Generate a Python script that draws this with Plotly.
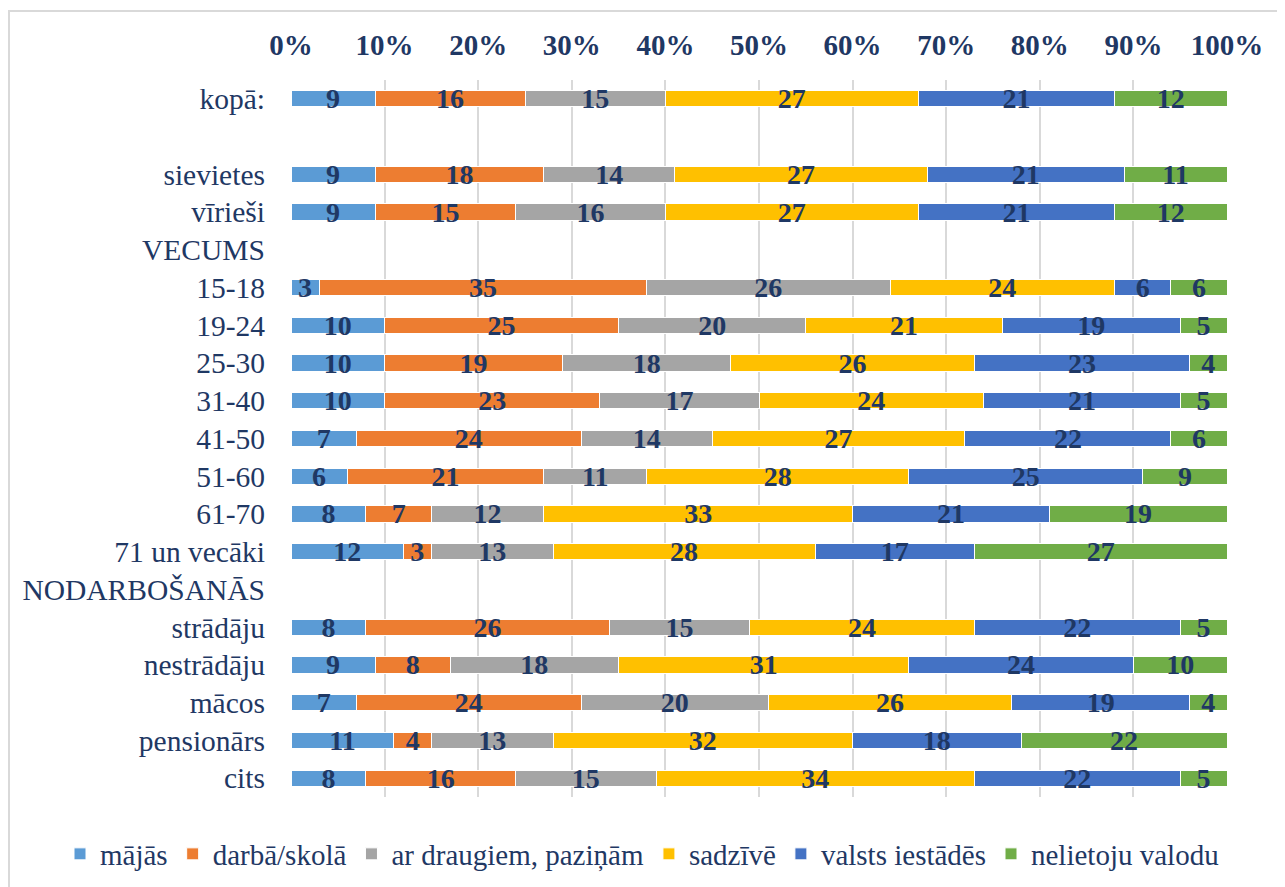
import plotly.graph_objects as go

categories = ["kopā:", " ", "sievietes", "vīrieši", "VECUMS", "15-18", "19-24", "25-30",
              "31-40", "41-50", "51-60", "61-70", "71 un vecāki", "NODARBOŠANĀS",
              "strādāju", "nestrādāju", "mācos", "pensionārs", "cits"]

series_names = ["mājās", "darbā/skolā", "ar draugiem, paziņām", "sadzīvē",
                "valsts iestādēs", "nelietoju valodu"]

majas      = [9, None, 9, 9, None, 3, 10, 10, 10, 7, 6, 8, 12, None, 8, 9, 7, 11, 8]
darba      = [16, None, 18, 15, None, 35, 25, 19, 23, 24, 21, 7, 3, None, 26, 8, 24, 4, 16]
draugiem   = [15, None, 14, 16, None, 26, 20, 18, 17, 14, 11, 12, 13, None, 15, 18, 20, 13, 15]
sadzive    = [27, None, 27, 27, None, 24, 21, 26, 24, 27, 28, 33, 28, None, 24, 31, 26, 32, 34]
valsts     = [21, None, 21, 21, None, 6, 19, 23, 21, 22, 25, 21, 17, None, 22, 24, 19, 18, 22]
nelietoju  = [12, None, 11, 12, None, 6, 5, 4, 5, 6, 9, 19, 27, None, 5, 10, 4, 22, 5]

tick_vals = [0, 10, 20, 30, 40, 50, 60, 70, 80, 90, 100]
tick_text = ["0%", "10%", "20%", "30%", "40%", "50%", "60%", "70%", "80%", "90%", "100%"]

colors = ["#5B9BD5", "#ED7D31", "#A5A5A5", "#FFC000", "#4472C4", "#70AD47"]
navy = "#1F3864"
font_family = "Liberation Serif"

all_series = [majas, darba, draugiem, sadzive, valsts, nelietoju]

fig = go.Figure()
for name, vals, col in zip(series_names, all_series, colors):
    fig.add_trace(go.Bar(
        y=categories, x=vals, name=name, orientation="h",
        marker=dict(color=col, line=dict(color="white", width=1)),
        text=[("" if v is None else str(v)) for v in vals],
        textposition="inside", insidetextanchor="middle", textangle=0,
        constraintext="none",
        textfont=dict(family=font_family, size=28, color=navy, weight="bold"),
        width=0.43,
        hoverinfo="x+y+name",
    ))

# page has an 8px body margin, so work in figure coordinates (page - 8)
OFF = 8
W, H = 1285 - OFF, 887 - OFF
L, R, T, B = 291 - OFF, 1227 - OFF, 80 - OFF, 797 - OFF

def px_x(px):
    return (px - OFF - L) / (R - L)

def px_y(py):
    return (B - (py - OFF)) / (B - T)

fig.update_layout(
    width=W, height=H,
    barmode="stack",
    plot_bgcolor="white", paper_bgcolor="white",
    margin=dict(l=L, r=W - R, t=T, b=H - B, autoexpand=False),
    font=dict(family=font_family, color=navy, size=28),
    xaxis=dict(side="top", range=[0, 100], tickvals=tick_vals, ticktext=tick_text,
               tickfont=dict(family=font_family, size=29, color=navy, weight="bold"),
               showgrid=True, gridcolor="#D9D9D9", gridwidth=2,
               zeroline=False, showline=False, ticks="", ticklen=0,
               ticklabelstandoff=18),
    yaxis=dict(categoryorder="array", categoryarray=categories, autorange="reversed",
               tickfont=dict(family=font_family, size=29.5, color=navy),
               showgrid=False, zeroline=False, showline=False, ticks="",
               ticklabelstandoff=25),
    legend=dict(orientation="h", x=px_x(60), xanchor="left",
                y=px_y(854), yanchor="middle",
                font=dict(family=font_family, size=29, color=navy),
                traceorder="normal", itemwidth=30),
    showlegend=True,
    shapes=[dict(type="rect", xref="paper", yref="paper",
                 x0=px_x(9), y0=px_y(905), x1=px_x(1300), y1=px_y(11),
                 line=dict(color="#D9D9D9", width=2), fillcolor="rgba(0,0,0,0)", layer="below")],
)

fig.write_html("out.html")
